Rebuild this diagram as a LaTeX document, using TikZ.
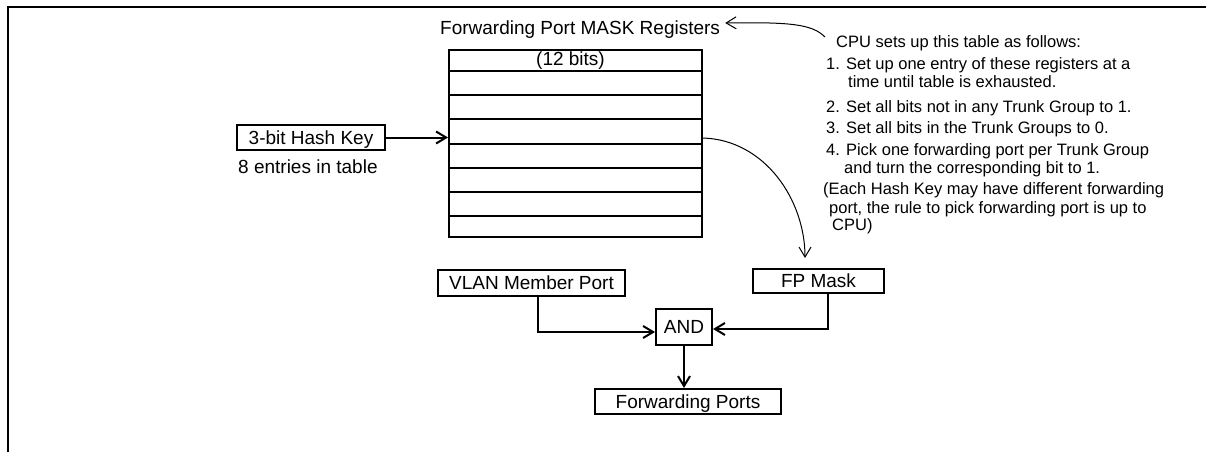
\documentclass[tikz,border=0pt]{standalone}
\usepackage{fontspec}
\setmainfont{Liberation Sans}
\usetikzlibrary{arrows.meta,calc}
\begin{document}
\begin{tikzpicture}[x=1pt,y=-1pt,
  box/.style={draw,line width=2pt,inner sep=0pt,text height=13.6pt,text depth=0pt,font=\fontsize{19}{22}\selectfont},
  lbl/.style={inner sep=0pt,anchor=base west,font=\fontsize{19}{22}\selectfont},
  note/.style={inner sep=0pt,anchor=base west,font=\fontsize{16.5}{19}\selectfont},
  arr/.style={-{Straight Barb[length=10pt,width=12pt]}},
  thickline/.style={line width=2pt},
  thinline/.style={line width=1pt}]
\useasboundingbox (0,0) rectangle (1206,452);
\draw[line width=2.5pt] (8,452) -- (8,7) -- (1206,7);

% table
\node[lbl] (title) at (440,35) {Forwarding Port MASK Registers};
\node[draw,line width=2pt,minimum width=253pt,minimum height=187pt,inner sep=0pt] (table) at (575.5,143.5) {};
\foreach \y in {71,95,119,144,168,192,216} \draw[thickline] (448,\y) -- (703,\y);
\node[lbl] (bits) at (536,65) {(12 bits)};

% hash key
\node[box,minimum width=148pt,minimum height=25pt] (hash) at (311,137.5) {3-bit Hash Key};
\node[lbl] (entries) at (238,173) {8 entries in table};
\draw[thickline,arr] (hash.east) -- (hash.east -| table.west);

% lower boxes
\node[box,minimum width=131pt,minimum height=24pt] (fp) at (818.5,281) {FP Mask};
\node[box,minimum width=187pt,minimum height=26pt] (vlan) at (531.5,283) {VLAN Member Port};
\node[box,minimum width=56pt,minimum height=36pt] (and) at (684,327) {AND};
\node[box,minimum width=186pt,minimum height=25pt] (fwd) at (688,401.5) {Forwarding Ports};

\draw[thickline,arr] ([xshift=6.5pt]vlan.south) |- ([yshift=-5pt]and.west);
\draw[thickline,arr] ([xshift=9.5pt]fp.south) |- ([yshift=-2pt]and.east);
\draw[thickline,arr] (and.south) -- (and.south |- fwd.north);
\draw[thinline,arr] ([yshift=5.5pt]table.east) .. controls (765,140) and (805,200) .. ([xshift=-13.5pt,yshift=10pt]fp.north);

% notes
\node[note] (l0) at (836,48) {CPU sets up this table as follows:};
\node[note] (l1) at (826,69) {1. Set up one entry of these registers at a};
\node[note] (l2) at (848,87) {time until table is exhausted.};
\node[note] (l3) at (826,112) {2. Set all bits not in any Trunk Group to 1.};
\node[note] (l4) at (826,133) {3. Set all bits in the Trunk Groups to 0.};
\node[note] (l5) at (826,155) {4. Pick one forwarding port per Trunk Group};
\node[note] (l6) at (844,173) {and turn the corresponding bit to 1.};
\node[note] (l7) at (823,194) {(Each Hash Key may have different forwarding};
\node[note] (l8) at (829,213) {port, the rule to pick forwarding port is up to};
\node[note] (l9) at (832,230) {CPU)};

\draw[thinline,arr] ([xshift=-11pt,yshift=11pt]l0.base west) .. controls (812,24) and (790,22) .. ([xshift=5pt,yshift=12pt]title.base east);
\end{tikzpicture}
\end{document}
